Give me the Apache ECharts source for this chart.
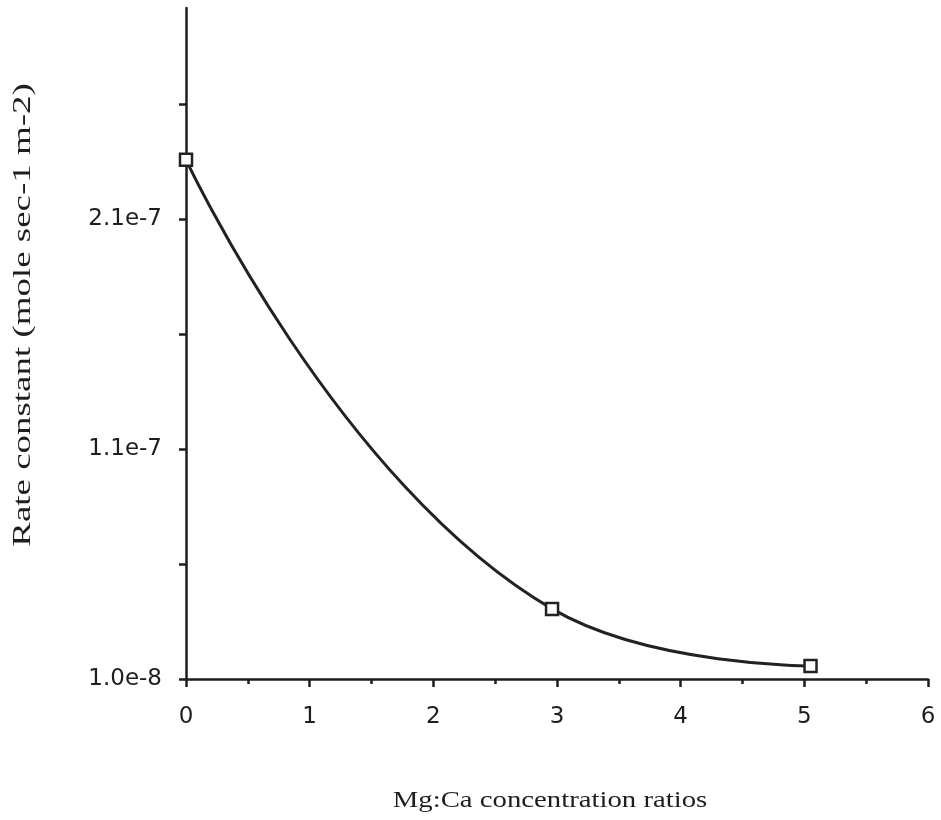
<!DOCTYPE html>
<html>
<head>
<meta charset="utf-8">
<script src="https://cdn.jsdelivr.net/npm/echarts@6/dist/echarts.min.js"></script>
<style>
  html, body { margin: 0; padding: 0; background: #fff; }
  #chart { width: 941px; height: 820px; }
</style>
</head>
<body>
<div id="chart"></div>
<script>
// Mg:Ca ratio vs rate constant
var ratios = [0, 2.96, 5.05]
var rates = [2.36e-7, 4.05e-8, 1.57e-8]
var yLabelValues = [1e-8, 1.1e-7, 2.1e-7]
var yTickValues = [1e-8, 6e-8, 1.1e-7, 1.6e-7, 2.1e-7, 2.6e-7]
var xName = 'Mg:Ca concentration ratios'
var yName = 'Rate constant (mole sec-1 m-2)'

var ink = '#1e1e1e'
var myChart = echarts.init(document.getElementById('chart'))

var option = {
  backgroundColor: '#fff',
  animation: false,
  grid: {
    left: 186,
    right: 13,
    top: 8,
    bottom: 141
  },
  xAxis: {
    type: 'value',
    min: 0,
    max: 6,
    interval: 1,
    axisLine: { lineStyle: { color: ink, width: 2.5 } },
    axisTick: { length: 8, lineStyle: { color: ink, width: 2.5 } },
    minorTick: { show: true, splitNumber: 2, length: 5, lineStyle: { color: ink, width: 2.5 } },
    splitLine: { show: false },
    axisLabel: {
      margin: 27,
      fontFamily: 'DejaVu Sans',
      fontSize: 23,
      color: ink
    }
  },
  yAxis: {
    type: 'value',
    min: 1e-8,
    max: 3.02e-7,
    axisLine: { show: true, lineStyle: { color: ink, width: 2.5 } },
    axisTick: {
      show: true,
      length: 7,
      customValues: yTickValues,
      lineStyle: { color: ink, width: 2.5 }
    },
    splitLine: { show: false },
    axisLabel: {
      margin: 24,
      customValues: yLabelValues,
      fontFamily: 'DejaVu Sans',
      fontSize: 23,
      color: ink,
      formatter: function (v) {
        return v.toExponential(1)
      }
    }
  },
  graphic: [
    {
      // x axis title, the original type is set wide
      type: 'text',
      x: 550,
      y: 801,
      scaleX: 1.25,
      style: {
        text: xName,
        align: 'center',
        verticalAlign: 'middle',
        fontFamily: 'Liberation Serif',
        fontSize: 23,
        fill: ink
      }
    },
    {
      type: 'text',
      x: 23,
      y: 315,
      rotation: Math.PI / 2,
      scaleX: 1.42,
      style: {
        text: yName,
        align: 'center',
        verticalAlign: 'middle',
        fontFamily: 'Liberation Serif',
        fontSize: 26,
        fill: ink
      }
    }
  ],
  series: [
    {
      type: 'line',
      data: ratios.map(function (x, i) { return [x, rates[i]] }),
      smooth: 0.5,
      symbol: 'rect',
      symbolSize: 12,
      showAllSymbol: true,
      lineStyle: { color: '#222', width: 3 },
      itemStyle: { color: '#fff', borderColor: '#222', borderWidth: 2.5 }
    }
  ]
}
myChart.setOption(option)
</script>
</body>
</html>
